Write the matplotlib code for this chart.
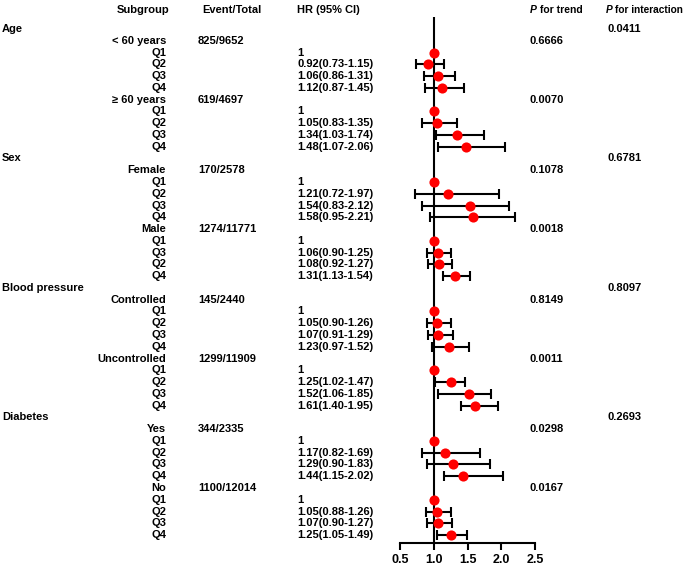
import matplotlib
matplotlib.use("Agg")
import matplotlib.pyplot as plt
import matplotlib.transforms as mtransforms

plt.rcParams['font.family'] = ['Liberation Sans', 'DejaVu Sans']

groups = ["Age", "Sex", "Blood pressure", "Diabetes"]
p_interaction = ["0.0411", "0.6781", "0.8097", "0.2693"]
subgroups = ["< 60 years", "≥ 60 years", "Female", "Male",
             "Controlled", "Uncontrolled", "Yes", "No"]
events = ["825/9652", "619/4697", "170/2578", "1274/11771",
          "145/2440", "1299/11909", "344/2335", "1100/12014"]
p_trend = ["0.6666", "0.0070", "0.1078", "0.0018",
           "0.8149", "0.0011", "0.0298", "0.0167"]
quartiles = [["Q1", "Q2", "Q3", "Q4"], ["Q1", "Q2", "Q3", "Q4"],
             ["Q1", "Q2", "Q3", "Q4"], ["Q1", "Q3", "Q2", "Q4"],
             ["Q1", "Q2", "Q3", "Q4"], ["Q1", "Q2", "Q3", "Q4"],
             ["Q1", "Q2", "Q3", "Q4"], ["Q1", "Q2", "Q3", "Q4"]]
hr = [[1, 0.92, 1.06, 1.12], [1, 1.05, 1.34, 1.48],
      [1, 1.21, 1.54, 1.58], [1, 1.06, 1.08, 1.31],
      [1, 1.05, 1.07, 1.23], [1, 1.25, 1.52, 1.61],
      [1, 1.17, 1.29, 1.44], [1, 1.05, 1.07, 1.25]]
lo = [[None, 0.73, 0.86, 0.87], [None, 0.83, 1.03, 1.07],
      [None, 0.72, 0.83, 0.95], [None, 0.90, 0.92, 1.13],
      [None, 0.90, 0.91, 0.97], [None, 1.02, 1.06, 1.40],
      [None, 0.82, 0.90, 1.15], [None, 0.88, 0.90, 1.05]]
hi = [[None, 1.15, 1.31, 1.45], [None, 1.35, 1.74, 2.06],
      [None, 1.97, 2.12, 2.21], [None, 1.25, 1.27, 1.54],
      [None, 1.26, 1.29, 1.52], [None, 1.47, 1.85, 1.95],
      [None, 1.69, 1.83, 2.02], [None, 1.26, 1.27, 1.49]]
xticks = [0.5, 1.0, 1.5, 2.0, 2.5]

W, H = 685, 565
fig = plt.figure(figsize=(W / 100, H / 100), dpi=100)
ax_left, ax_right = 400, 535
ax_top, ax_bot = 17, 543
ax = fig.add_axes([ax_left / W, (H - ax_bot) / H,
                   (ax_right - ax_left) / W, (ax_bot - ax_top) / H])

row0 = 29.0
step = 11.77
def yrow(px):
    return (px - row0) / step

ax.set_ylim(yrow(ax_bot), yrow(ax_top))
ax.set_xlim(0.5, 2.5)
for s in ["top", "right", "left"]:
    ax.spines[s].set_visible(False)
ax.spines["bottom"].set_linewidth(1.5)
ax.set_yticks([])
ax.set_xticks(xticks)
ax.set_xticklabels([f"{t:.1f}" for t in xticks], fontsize=9, fontweight="bold")
ax.tick_params(axis="x", width=1.5, length=5, pad=3)
ax.axvline(1.0, color="black", lw=1.5, zorder=1)

trans = mtransforms.blended_transform_factory(fig.transFigure, ax.transData)
fs = 8
def txt(xpx, y, s, ha="left", size=fs, **kw):
    ax.text(xpx / W, y, s, transform=trans, ha=ha, va="center",
            fontsize=size, fontweight="bold", clip_on=False, **kw)

# headers
yh = yrow(10)
txt(117, yh, "Subgroup")
txt(202, yh, "Event/Total")
txt(297, yh, "HR (95% CI)")
txt(530, yh, "P", size=7.5, style="italic")
txt(540, yh, "for trend", size=7.5)
txt(606, yh, "P", size=7.3, style="italic")
txt(615, yh, "for interaction", size=7.3)

row = 0
for g in range(4):
    txt(2, row, groups[g])
    txt(607, row, p_interaction[g])
    row += 1
    for k in range(2):
        s = 2 * g + k
        txt(166, row, subgroups[s], ha="right")
        txt(198, row, events[s])
        txt(529, row, p_trend[s])
        row += 1
        for q in range(4):
            txt(166, row, quartiles[s][q], ha="right")
            if lo[s][q] is None:
                txt(297, row, "1")
            else:
                txt(297, row, f"{hr[s][q]:.2f}({lo[s][q]:.2f}-{hi[s][q]:.2f})")
                ax.errorbar(hr[s][q], row,
                            xerr=[[hr[s][q] - lo[s][q]], [hi[s][q] - hr[s][q]]],
                            fmt="none", ecolor="black", elinewidth=1.5,
                            capsize=3.5, capthick=1.5, zorder=2)
            ax.plot(hr[s][q], row, "o", color="#ff0000", ms=7.3, mec="none",
                    zorder=3, clip_on=False)
            row += 1

fig.savefig("out.png", dpi=100)
